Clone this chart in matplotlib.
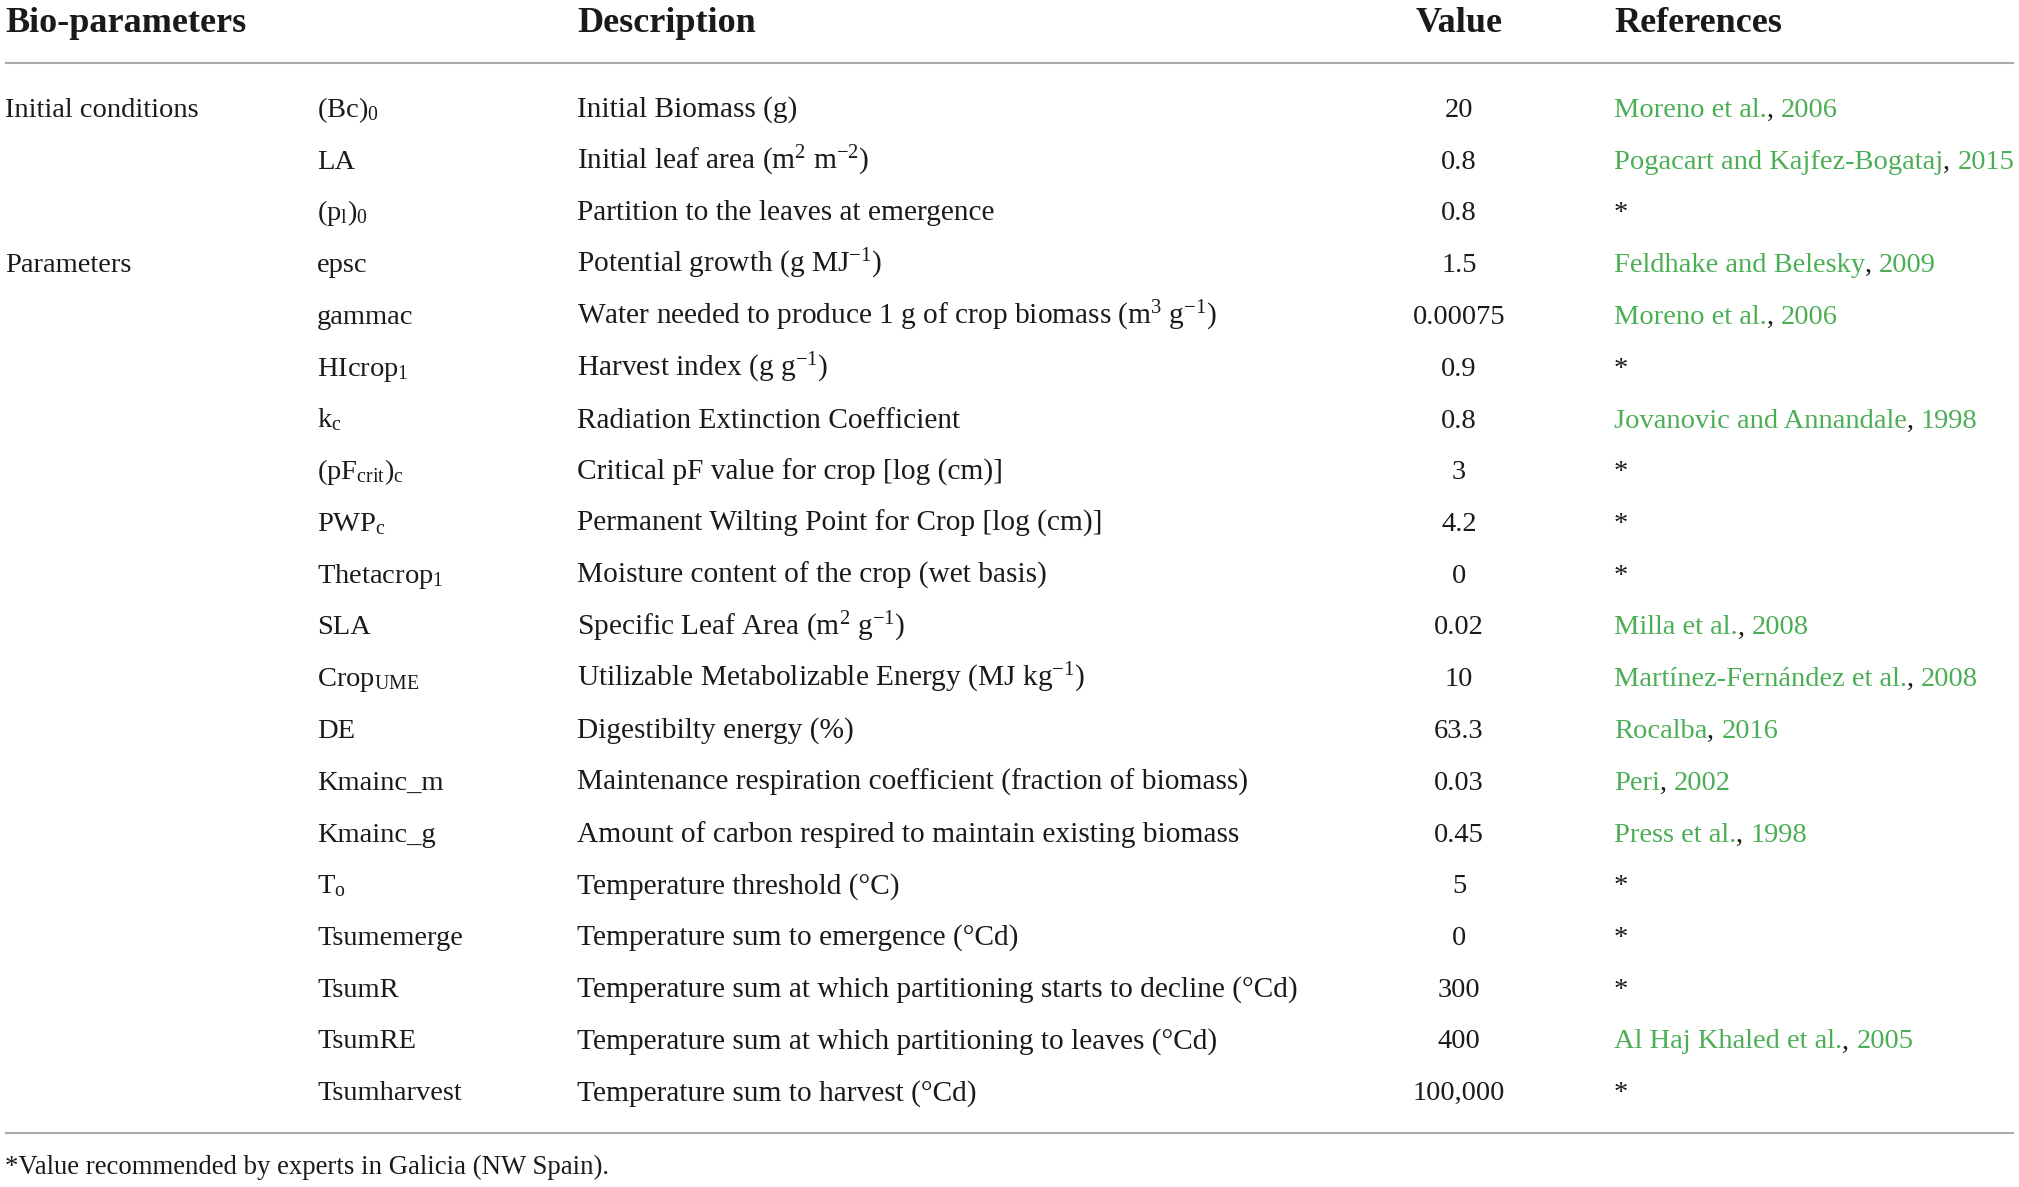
'''
Table of crop bio-parameters drawn with matplotlib
'''
import matplotlib
matplotlib.use('Agg')
import matplotlib.pyplot as plt

# --------------------------------
headers     = ['Bio-parameters', 'Description', 'Value', 'References']

groups      = ['Initial conditions', '', '', 'Parameters'] + [''] * 16

symbols     = [
        r'(Bc)$_0$',
        'LA',
        r'(p$_\mathrm{l}$)$_0$',
        'epsc',
        'gammac',
        r'HIcrop$_1$',
        r'k$_\mathrm{c}$',
        r'(pF$_\mathrm{crit}$)$_\mathrm{c}$',
        r'PWP$_\mathrm{c}$',
        r'Thetacrop$_1$',
        'SLA',
        r'Crop$_\mathrm{UME}$',
        'DE',
        'Kmainc_m',
        'Kmainc_g',
        r'T$_\mathrm{o}$',
        'Tsumemerge',
        'TsumR',
        'TsumRE',
        'Tsumharvest',
        ]

descriptions = [
        'Initial Biomass (g)',
        r'Initial leaf area (m$^2$ m$^{-2}$)',
        'Partition to the leaves at emergence',
        r'Potential growth (g MJ$^{-1}$)',
        r'Water needed to produce 1 g of crop biomass (m$^3$ g$^{-1}$)',
        r'Harvest index (g g$^{-1}$)',
        'Radiation Extinction Coefficient',
        'Critical pF value for crop [log (cm)]',
        'Permanent Wilting Point for Crop [log (cm)]',
        'Moisture content of the crop (wet basis)',
        r'Specific Leaf Area (m$^2$ g$^{-1}$)',
        r'Utilizable Metabolizable Energy (MJ kg$^{-1}$)',
        'Digestibilty energy (%)',
        'Maintenance respiration coefficient (fraction of biomass)',
        'Amount of carbon respired to maintain existing biomass',
        'Temperature threshold (°C)',
        'Temperature sum to emergence (°Cd)',
        'Temperature sum at which partitioning starts to decline (°Cd)',
        'Temperature sum at which partitioning to leaves (°Cd)',
        'Temperature sum to harvest (°Cd)',
        ]

values      = ['20', '0.8', '0.8', '1.5', '0.00075', '0.9', '0.8', '3', '4.2', '0',
               '0.02', '10', '63.3', '0.03', '0.45', '5', '0', '300', '400', '100,000']

ref_authors = [
        'Moreno et al.',
        'Pogacart and Kajfez-Bogataj',
        '*',
        'Feldhake and Belesky',
        'Moreno et al.',
        '*',
        'Jovanovic and Annandale',
        '*',
        '*',
        '*',
        'Milla et al.',
        'Martínez-Fernández et al.',
        'Rocalba',
        'Peri',
        'Press et al.',
        '*',
        '*',
        '*',
        'Al Haj Khaled et al.',
        '*',
        ]

ref_years   = ['2006', '2015', '', '2009', '2006', '', '1998', '', '', '',
               '2008', '2008', '2016', '2002', '1998', '', '', '', '2005', '']

footnote    = '*Value recommended by experts in Galicia (NW Spain).'

# --------------------------------
class Style:
    '''
    Layout and styling
    '''
    width   = 2019
    height  = 1187
    font    = 'Liberation Serif'
    body_fs = 20.5
    desc_fs = 21.2
    head_fs = 26
    foot_fs = 19.3
    green   = '#4bae55'
    rule    = '#aaaaaa'

    col_x   = [5, 317, 577, 1459, 1614]
    head_y  = 32
    line_y  = 63
    row_y0  = 117
    row_dy  = 51.75
    end_y   = 1133
    foot_y  = 1174
# --------------------------------
def _setup():
    plt.rcParams['font.family']      = Style.font
    plt.rcParams['mathtext.fontset'] = 'custom'
    plt.rcParams['mathtext.rm']      = Style.font
    plt.rcParams['mathtext.it']      = f'{Style.font}:italic'
    plt.rcParams['mathtext.bf']      = f'{Style.font}:bold'

    fig = plt.figure(figsize=(Style.width / 100, Style.height / 100), dpi=100)
    ax  = fig.add_axes([0, 0, 1, 1])
    ax.set_xlim(0, Style.width)
    ax.set_ylim(Style.height, 0)
    ax.axis('off')

    return fig, ax
# --------------------------------
def _draw_header(ax) -> None:
    kw = dict(fontsize=Style.head_fs, fontweight='bold', va='baseline', color='#1a1a1a')
    ax.text(Style.col_x[0], Style.head_y, headers[0], ha='left'  , **kw)
    ax.text(Style.col_x[2], Style.head_y, headers[1], ha='left'  , **kw)
    ax.text(Style.col_x[3], Style.head_y, headers[2], ha='center', **kw)
    ax.text(Style.col_x[4], Style.head_y, headers[3], ha='left'  , **kw)

    ax.plot([5, 2014], [Style.line_y, Style.line_y], color=Style.rule, lw=1.5, solid_capstyle='butt')
    ax.plot([5, 2014], [Style.end_y , Style.end_y ], color=Style.rule, lw=1.5, solid_capstyle='butt')
# --------------------------------
def _draw_reference(fig, ax, x : float, y : float, author : str, year : str) -> None:
    kw = dict(fontsize=Style.body_fs, va='baseline', ha='left')
    if author == '*':
        ax.text(x, y, author, color='#1a1a1a', **kw)
        return

    rdr = fig.canvas.get_renderer()
    for part, color in [(author, Style.green), (', ', '#1a1a1a'), (year, Style.green)]:
        txt = ax.text(x, y, part, color=color, **kw)
        x  += txt.get_window_extent(rdr).width
# --------------------------------
def _draw_rows(fig, ax) -> None:
    kw = dict(fontsize=Style.body_fs, va='baseline', color='#1a1a1a')
    for i in range(len(symbols)):
        y = Style.row_y0 + i * Style.row_dy
        ax.text(Style.col_x[0], y, groups[i] , ha='left'  , **kw)
        ax.text(Style.col_x[1], y, symbols[i], ha='left'  , **kw)
        ax.text(Style.col_x[3], y, values[i] , ha='center', **kw)
        ax.text(Style.col_x[2], y, descriptions[i], ha='left', va='baseline',
                fontsize=Style.desc_fs, color='#1a1a1a')

        _draw_reference(fig, ax, Style.col_x[4], y, ref_authors[i], ref_years[i])

    ax.text(Style.col_x[0], Style.foot_y, footnote, fontsize=Style.foot_fs, va='baseline', color='#1a1a1a')
# --------------------------------
def main():
    '''
    Start here
    '''
    fig, ax = _setup()
    _draw_header(ax)
    _draw_rows(fig, ax)

    fig.savefig('out.png', dpi=100)
    plt.close(fig)
# --------------------------------
if __name__ == '__main__':
    main()
